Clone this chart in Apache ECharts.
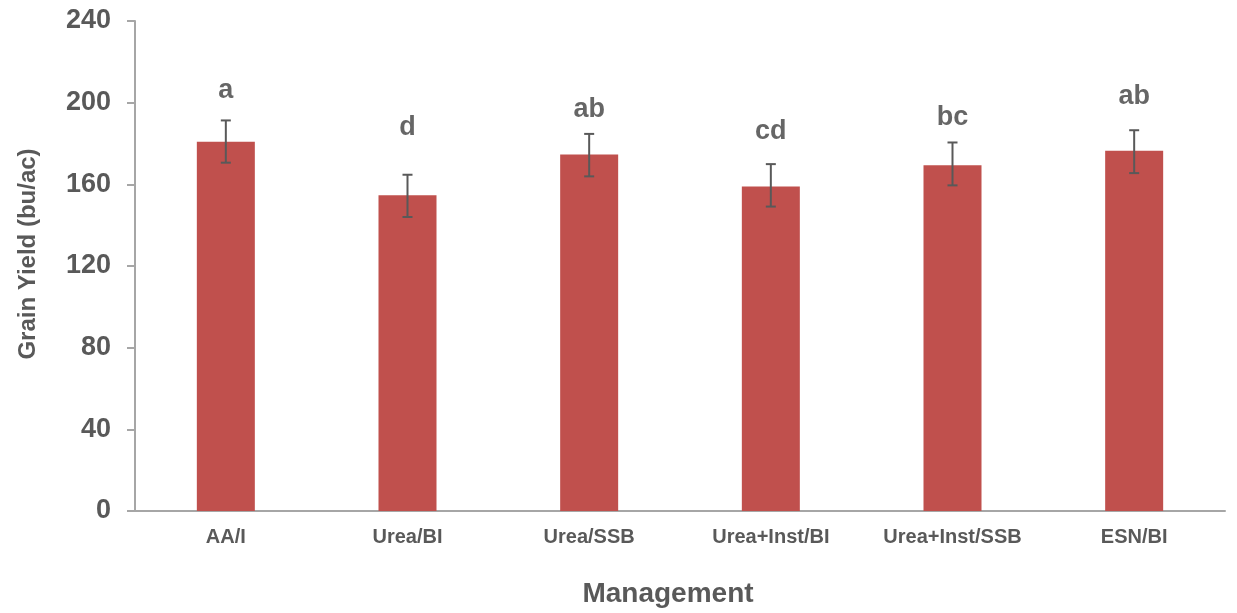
<!DOCTYPE html>
<html>
<head>
<meta charset="utf-8">
<script src="https://cdn.jsdelivr.net/npm/echarts@6/dist/echarts.min.js"></script>
<style>
html,body{margin:0;padding:0;background:#fff;}
#chart{width:1237px;height:613px;}
</style>
</head>
<body>
<div id="chart"></div>
<script>
const categories = ['AA/I', 'Urea/BI', 'Urea/SSB', 'Urea+Inst/BI', 'Urea+Inst/SSB', 'ESN/BI'];
const grainYield = [180.8, 154.6, 174.6, 159.0, 169.4, 176.4];
const errorLow = [170.6, 144.0, 163.9, 149.1, 159.5, 165.5];
const errorHigh = [191.3, 164.7, 184.7, 169.9, 180.5, 186.5];
const letters = ['a', 'd', 'ab', 'cd', 'bc', 'ab'];
const letterHeights = [206.0, 187.9, 196.7, 185.9, 192.6, 203.2];
const yTicks = [0, 40, 80, 120, 160, 200, 240];

const FONT = '"Liberation Sans", Arial, sans-serif';
const TXT = '#595959';

const chart = echarts.init(document.getElementById('chart'), null, {renderer: 'canvas'});
chart.setOption({
  animation: false,
  backgroundColor: '#ffffff',
  grid: {left: 135, right: 12, top: 21, bottom: 100, containLabel: false},
  xAxis: {
    type: 'category',
    data: categories,
    name: 'Management',
    nameLocation: 'middle',
    nameGap: 69,
    nameTextStyle: {fontFamily: FONT, fontWeight: 'bold', fontSize: 28, color: TXT, padding: [0, 24, 0, 0]},
    axisLine: {show: true, lineStyle: {color: '#A6A6A6', width: 2}},
    axisTick: {show: false},
    axisLabel: {fontFamily: FONT, fontWeight: 'bold', fontSize: 20, color: TXT, margin: 16, interval: 0}
  },
  yAxis: {
    type: 'value',
    min: yTicks[0],
    max: yTicks[yTicks.length - 1],
    interval: 40,
    name: 'Grain Yield (bu/ac)',
    nameLocation: 'middle',
    nameGap: 95,
    nameRotate: 90,
    nameTextStyle: {fontFamily: FONT, fontWeight: 'bold', fontSize: 24, color: TXT, padding: [0, 0, 0, 24]},
    axisLine: {show: true, lineStyle: {color: '#A6A6A6', width: 2}},
    axisTick: {show: true, length: 8, inside: false, lineStyle: {color: '#A6A6A6', width: 2}},
    splitLine: {show: false},
    axisLabel: {fontFamily: FONT, fontWeight: 'bold', fontSize: 27, color: TXT, margin: 24}
  },
  series: [
    {
      type: 'bar',
      data: grainYield,
      barWidth: 58,
      itemStyle: {color: '#C0504D'},
      z: 2
    },
    {
      type: 'custom',
      z: 5,
      data: categories.map((c, i) => [i, errorLow[i], errorHigh[i]]),
      renderItem: function (params, api) {
        const x = api.coord([api.value(0), 0])[0];
        const lo = api.coord([api.value(0), api.value(1)])[1];
        const hi = api.coord([api.value(0), api.value(2)])[1];
        const hw = 5;
        const style = {stroke: '#595959', lineWidth: 2};
        return {
          type: 'group',
          children: [
            {type: 'line', shape: {x1: x, y1: hi, x2: x, y2: lo}, style: style},
            {type: 'line', shape: {x1: x - hw, y1: hi, x2: x + hw, y2: hi}, style: style},
            {type: 'line', shape: {x1: x - hw, y1: lo, x2: x + hw, y2: lo}, style: style}
          ]
        };
      }
    },
    {
      type: 'scatter',
      symbolSize: 0,
      z: 6,
      data: categories.map((c, i) => ({value: [i, letterHeights[i]], name: letters[i]})),
      label: {
        show: true,
        position: 'inside',
        formatter: p => p.name,
        fontFamily: FONT,
        fontWeight: 'bold',
        fontSize: 27,
        color: '#404040'
      }
    }
  ]
});
</script>
</body>
</html>
